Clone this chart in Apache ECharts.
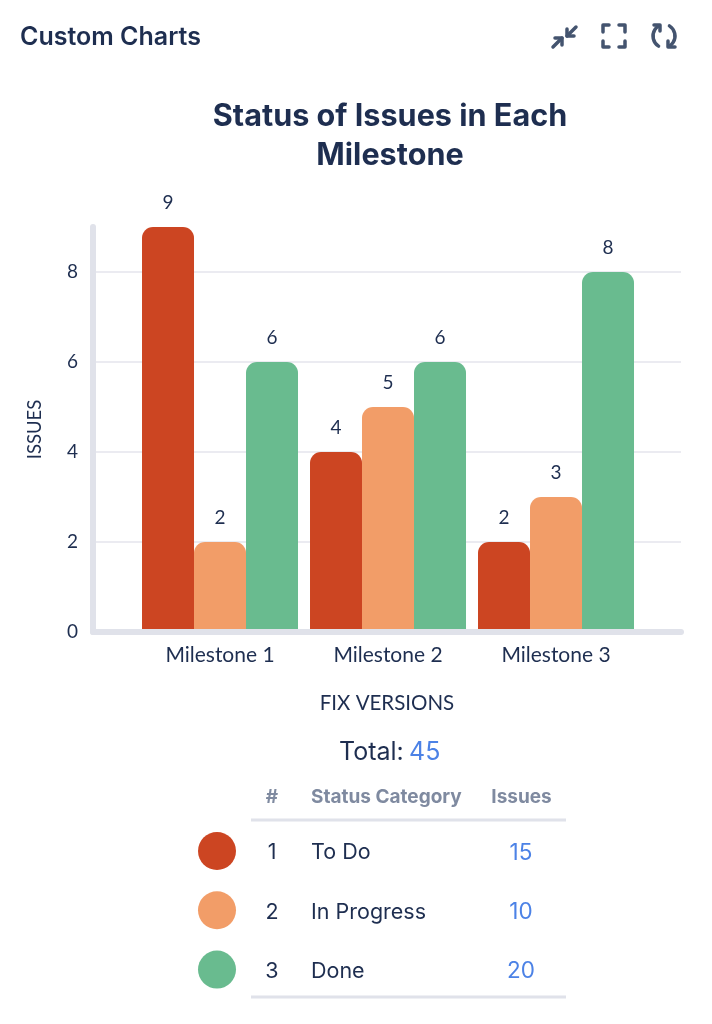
<!DOCTYPE html>
<html><head><meta charset="utf-8">
<style>html,body{margin:0;padding:0;background:#fff}#c{width:712px;height:1024px}</style>
<script src="https://cdn.jsdelivr.net/npm/echarts@6/dist/echarts.min.js"></script></head>
<body><div id="c"></div>
<script>
const categories = ['Milestone 1','Milestone 2','Milestone 3'];
const statusNames = ['To Do','In Progress','Done'];
const toDo = [9,4,2];
const inProgress = [2,5,3];
const done = [6,6,8];
const yTicks = [0,2,4,6,8];
const totals = [15,10,20];
const total = 45;
const colors = ['#CC4522','#F29D68','#69BB8F'];
const ink = '#1E2E50', blue = '#4C82E6', grey = '#7F8AA0', rule = '#E0E2EA';
const sans = 'Lato', ui = 'Inter';
const chart = echarts.init(document.getElementById('c'), null, {renderer:'canvas'});
const bar = (name, vals, i) => ({
  name, type:'bar', barWidth:52, barGap:0, z:2,
  data: vals.map((v,k)=>[k,v]),
  itemStyle:{color:colors[i], borderRadius:[11,11,0,0]},
  label:{show:true, position:'top', distance:15, color:ink, fontFamily:sans, fontSize:19,
         formatter:p=>String(p.value[1])}
});
const txt = (x,y,text,o={}) => ({type:'text', x, y, silent:true, style:Object.assign({
  text, fill:ink, fontFamily:ui, fontSize:21.5, textAlign:'left', textVerticalAlign:'middle'},o)});
const table = [];
table.push(txt(339,752,'Total:',{fontSize:25}));
table.push(txt(409,752,String(total),{fontSize:25,fill:blue}));
table.push(txt(272,797,'#',{fontSize:19,fontWeight:'bold',fill:grey,textAlign:'center'}));
table.push(txt(311,797,'Status Category',{fontSize:19,fontWeight:'bold',fill:grey}));
table.push(txt(521.5,797,'Issues',{fontSize:19,fontWeight:'bold',fill:grey,textAlign:'center'}));
[820,997].forEach(y=>table.push({type:'line',silent:true,shape:{x1:251,y1:y,x2:566,y2:y},style:{stroke:rule,lineWidth:3}}));
statusNames.forEach((s,i)=>{
  const y = 853 + i*59.3;
  table.push({type:'circle',silent:true,shape:{cx:217,cy:y-2,r:19},style:{fill:colors[i]}});
  table.push(txt(272,y,String(i+1),{textAlign:'center'}));
  table.push(txt(311,y,s));
  table.push(txt(521,y,String(totals[i]),{fill:blue,textAlign:'center',fontSize:22.5}));
});
const iconStyle = {stroke:'#44546F',fill:'none',lineWidth:3.5,lineCap:'round',lineJoin:'round'};
const poly = pts => ({type:'polyline',silent:true,shape:{points:pts},style:iconStyle});
const arc = (cx,cy,r,a,b) => ({type:'arc',silent:true,shape:{cx,cy,r,startAngle:a,endAngle:b,clockwise:true},style:iconStyle});
const icons = [
  poly([[553,47],[562,38]]),poly([[555,38],[562,38],[562,45]]),
  poly([[567,36],[576,27]]),poly([[567,29],[567,36],[574,36]]),
  poly([[603,32],[603,25],[609,25]]),poly([[619,25],[625,25],[625,32]]),
  poly([[603,41],[603,47],[609,47]]),poly([[619,47],[625,47],[625,41]]),
  arc(665,36,12,Math.PI*0.68,Math.PI*1.3),poly([[654,25],[660,25],[660,31]]),
  arc(663,36,12,Math.PI*1.68,Math.PI*2.3),poly([[675,47],[668,47],[668,41]])
];
chart.setOption({
  animation:false, backgroundColor:'#fff',
  title:{text:'Status of Issues in Each\nMilestone', left:385, top:92, textAlign:'center',
    textStyle:{fontFamily:ui,fontSize:30.6,fontWeight:'bold',color:ink,lineHeight:39}},
  grid:{left:93,right:31,top:227,bottom:392},
  xAxis:{type:'value',min:-0.756,max:2.744,z:5,
    axisLine:{show:true,onZero:false,lineStyle:{color:rule,width:6}},
    axisTick:{show:false},splitLine:{show:false},
    axisLabel:{customValues:[0,1,2],formatter:v=>categories[v],color:ink,fontFamily:sans,fontSize:21,margin:13,hideOverlap:false},
    name:'FIX VERSIONS',nameLocation:'middle',nameGap:61,
    nameTextStyle:{color:ink,fontFamily:sans,fontSize:20.5}},
  yAxis:{type:'value',min:0,max:9,
    axisLine:{show:true,onZero:false,lineStyle:{color:rule,width:6}},
    axisTick:{show:false,customValues:yTicks},
    splitLine:{show:true,showMinLine:false,lineStyle:{color:'#E4E5EC',width:1.5}},
    axisLabel:{customValues:yTicks,color:ink,fontFamily:sans,fontSize:19,margin:15},
    name:'ISSUES',nameLocation:'middle',nameGap:48,nameRotate:90,
    nameTextStyle:{color:ink,fontFamily:sans,fontSize:18.5}},
  series:[bar(statusNames[0],toDo,0),bar(statusNames[1],inProgress,1),bar(statusNames[2],done,2)],
  graphic:[txt(20,37,'Custom Charts',{fontSize:25,fontWeight:600}),...icons,...table]
});
</script></body></html>
